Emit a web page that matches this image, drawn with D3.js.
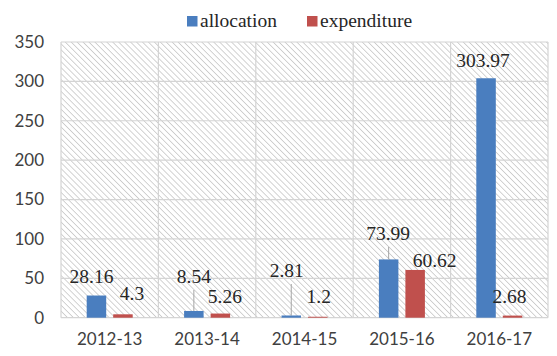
<!DOCTYPE html>
<html>
<head>
<meta charset="utf-8">
<script src="https://cdn.jsdelivr.net/npm/d3@7"></script>
<style>
  html, body { margin: 0; padding: 0; background: #fff; }
  svg { display: block; }
</style>
</head>
<body>
<svg id="chart" width="557" height="356"></svg>
<script>
const SERIF = "'Liberation Serif', 'Times New Roman', Times, 'DejaVu Serif', serif";
const SANS = "Lato, 'Liberation Sans', sans-serif";
// ---- data ----
const categories = ["2012-13", "2013-14", "2014-15", "2015-16", "2016-17"];
const allocation = [28.16, 8.54, 2.81, 73.99, 303.97];
const expenditure = [4.3, 5.26, 1.2, 60.62, 2.68];
const seriesNames = ["allocation", "expenditure"];
const yTicks = [0, 50, 100, 150, 200, 250, 300, 350];

// ---- label layout (offsets from bar center / bar top, px) ----
const allocLabelOffsets = [
  { dx: -5, dy: -12.5, leader: false },
  { dx: 0, dy: -28, leader: true },
  { dx: -4.5, dy: -38.5, leader: true },
  { dx: -0.5, dy: -19.5, leader: true },
  { dx: -3, dy: -11, leader: false }
];
const expLabelOffsets = [
  { dx: 9, dy: -14 },
  { dx: 4.5, dy: -10.5 },
  { dx: 1, dy: -13.8 },
  { dx: 19.5, dy: -3 },
  { dx: -3, dy: -12.6 }
];

const colors = { allocation: "#4a7ebf", expenditure: "#c0504d" };
const W = 557, H = 356;
const margin = { left: 61, right: 9, top: 42, bottom: 38.3 };

const svg = d3.select("#chart");
const defs = svg.append("defs");
const pat = defs.append("pattern")
  .attr("id", "hatch")
  .attr("patternUnits", "userSpaceOnUse")
  .attr("width", 4.2).attr("height", 4.2)
  .attr("patternTransform", "rotate(45)");
pat.append("rect").attr("width", 4.2).attr("height", 4.2).attr("fill", "#ffffff");
pat.append("line").attr("x1", 0).attr("y1", 0).attr("x2", 4.2).attr("y2", 0)
  .attr("stroke", "#c8c8c8").attr("stroke-width", 1.6);

const x0 = d3.scaleBand().domain(categories)
  .range([margin.left, W - margin.right]).paddingInner(0).paddingOuter(0);
const y = d3.scaleLinear().domain([0, 350]).range([H - margin.bottom, margin.top]);

const barW = 19.5, innerGap = 7;
const xSeries = (i, s) => x0(categories[i]) + x0.bandwidth() / 2 + (s === 0 ? -(innerGap / 2) - barW : innerGap / 2);

// plot background
svg.append("rect")
  .attr("x", margin.left).attr("y", margin.top)
  .attr("width", x0.range()[1] - margin.left)
  .attr("height", y(0) - margin.top)
  .attr("fill", "url(#hatch)");

// horizontal grid
svg.append("g").selectAll("line").data(yTicks).join("line")
  .attr("x1", margin.left).attr("x2", W - margin.right)
  .attr("y1", d => y(d)).attr("y2", d => y(d))
  .attr("stroke", "#d4d4d4").attr("stroke-width", 1.2);
// vertical grid (category boundaries)
const bounds = categories.map(c => x0(c)).concat([x0.range()[1]]);
svg.append("g").selectAll("line").data(bounds).join("line")
  .attr("x1", d => d).attr("x2", d => d)
  .attr("y1", y(350)).attr("y2", y(0))
  .attr("stroke", "#d4d4d4").attr("stroke-width", 1.2);

// y axis labels
const yAxis = d3.axisLeft(y).tickValues(yTicks).tickSize(0).tickPadding(17);
const gy = svg.append("g").attr("transform", `translate(${margin.left},0)`).call(yAxis);
gy.select(".domain").remove();
gy.selectAll("text").style("font-family", SANS)
  .style("font-size", "17px").attr("fill", "#404040");

// x axis labels
const xAxis = d3.axisBottom(x0).tickSize(0).tickPadding(15);
const gx = svg.append("g").attr("transform", `translate(0,${y(0)})`).call(xAxis);
gx.select(".domain").remove();
gx.selectAll("text").style("font-family", SANS)
  .style("font-size", "17px").attr("fill", "#404040");

// bars
const seriesData = [allocation, expenditure];
seriesData.forEach((vals, s) => {
  svg.append("g").selectAll("rect").data(vals).join("rect")
    .attr("x", (d, i) => xSeries(i, s))
    .attr("y", d => y(d))
    .attr("width", barW)
    .attr("height", d => y(0) - y(d))
    .attr("fill", colors[seriesNames[s]]);
});

// data labels
const lg = svg.append("g");
allocation.forEach((v, i) => {
  const o = allocLabelOffsets[i];
  const cx = xSeries(i, 0) + barW / 2;
  const ty = y(v);
  if (o.leader) {
    lg.append("line")
      .attr("x1", cx).attr("x2", cx)
      .attr("y1", ty + o.dy + 7).attr("y2", ty)
      .attr("stroke", "#a6a6a6").attr("stroke-width", 1);
  }
  lg.append("text")
    .attr("x", cx + o.dx).attr("y", ty + o.dy)
    .attr("text-anchor", "middle")
    .style("font-family", SERIF).style("font-size", "19.5px")
    .attr("fill", "#262626")
    .text(v);
});
expenditure.forEach((v, i) => {
  const o = expLabelOffsets[i];
  const cx = xSeries(i, 1) + barW / 2;
  const ty = y(v);
  lg.append("text")
    .attr("x", cx + o.dx).attr("y", ty + o.dy)
    .attr("text-anchor", "middle")
    .style("font-family", SERIF).style("font-size", "19.5px")
    .attr("fill", "#262626")
    .text(v);
});

// legend
const legendX = [187, 307];
const leg = svg.append("g");
seriesNames.forEach((n, i) => {
  leg.append("rect").attr("x", legendX[i]).attr("y", 16).attr("width", 10.5).attr("height", 10.5)
    .attr("fill", colors[n]);
  leg.append("text").attr("x", legendX[i] + 13).attr("y", 27)
    .style("font-family", SERIF).style("font-size", "19.5px")
    .attr("fill", "#262626").text(n);
});
</script>
</body>
</html>
